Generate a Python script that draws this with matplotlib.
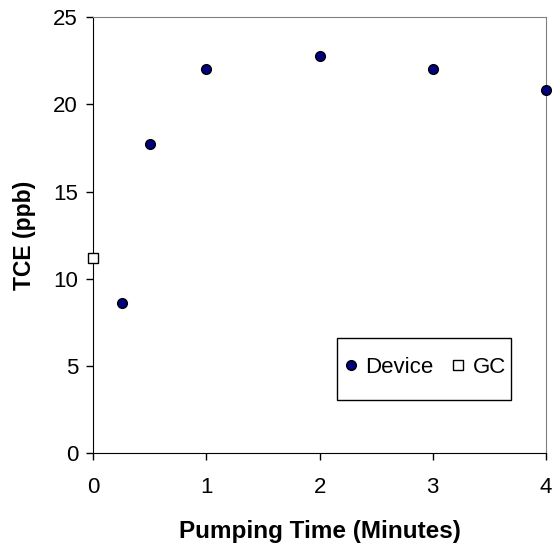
import matplotlib
matplotlib.use('Agg')
import matplotlib.pyplot as plt
from matplotlib.patches import Rectangle

## Data
device_t = [0.25, 0.5, 1, 2, 3, 4]
device_tce = [8.6, 17.7, 22.0, 22.8, 22.0, 20.8]
gc_t = [0]
gc_tce = [11.2]

plt.rcParams['font.family'] = ['Liberation Sans', 'DejaVu Sans']

fig = plt.figure(figsize=(5.52, 5.54), dpi=100)
ax = fig.add_axes([0.169, 0.182, 0.82, 0.787])

ax.plot(device_t, device_tce, 'o', color='#000080', markeredgecolor='k',
        markeredgewidth=1, markersize=7, clip_on=False, label='Device', zorder=3)
ax.plot(gc_t, gc_tce, 's', color='white', markeredgecolor='k',
        markeredgewidth=1, markersize=6.5, clip_on=False, label='GC', zorder=3)

ax.set_xlim(0, 4)
ax.set_ylim(0, 25)
ax.set_xticks([0, 1, 2, 3, 4])
ax.set_yticks([0, 5, 10, 15, 20, 25])
ax.tick_params(labelsize=16, direction='out', length=5, width=1, pad=6)
ax.tick_params(axis='x', pad=12)

for s in ['top', 'right']:
    ax.spines[s].set_color('#808080')
for s in ['left', 'bottom']:
    ax.spines[s].set_color('k')

ax.set_xlabel('Pumping Time (Minutes)', fontsize=17.5, fontweight='bold', labelpad=16)
ax.set_ylabel('TCE (ppb)', fontsize=16.5, fontweight='bold', labelpad=12)

# legend box drawn as a plain rectangle, legend itself frameless
ax.add_patch(Rectangle((0.538, 0.122), 0.385, 0.142, transform=ax.transAxes,
                       facecolor='white', edgecolor='k', linewidth=1, zorder=4))
leg = ax.legend(loc='center', bbox_to_anchor=(0.728, 0.197), ncol=2, fontsize=16,
                frameon=False, handletextpad=0.15, columnspacing=0.6,
                handlelength=1.0)
leg.set_zorder(5)

fig.savefig('out.png', dpi=100)
